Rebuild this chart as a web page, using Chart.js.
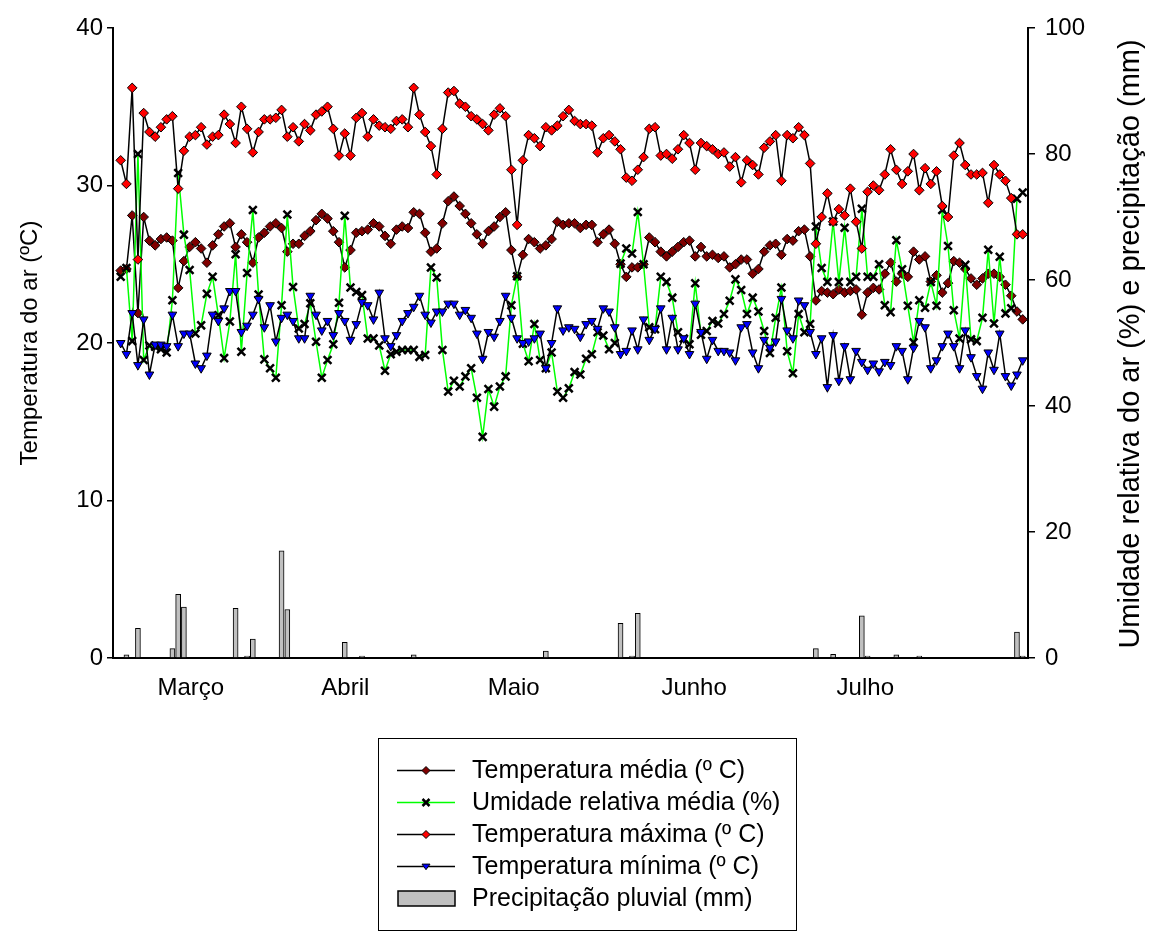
<!DOCTYPE html>
<html>
<head>
<meta charset="utf-8">
<script src="https://cdn.jsdelivr.net/npm/chart.js@4.4.1/dist/chart.umd.min.js"></script>
<style>
  html, body { margin: 0; padding: 0; background: #fff; }
  #wrap { width: 1150px; height: 932px; }
</style>
</head>
<body>
<div id="wrap"><canvas id="chart" width="1150" height="932"></canvas></div>
<script>
// daily series, day 0 = first day shown (early March) .. day 157 (end of July)
const tempMedia = [
  24.6, 24.7, 28.1, 21.9, 28.0, 26.5, 26.2, 26.6, 26.7, 26.5, 23.5, 25.2, 26.1, 26.4, 26.0, 25.1,
  26.2, 26.9, 27.4, 27.6, 26.1, 26.9, 26.4, 25.1, 26.7, 27.0, 27.4, 27.6, 27.3, 25.8, 26.3,
  26.3, 26.8, 27.1, 27.8, 28.2, 27.9, 27.1, 26.4, 24.8, 25.9, 27.0, 27.1, 27.2, 27.6, 27.4, 26.8,
  26.3, 27.2, 27.4, 27.3, 28.3, 28.2, 27.0, 25.8, 26.0, 27.6, 29.0, 29.3, 28.7, 28.2, 27.6, 26.9,
  26.3, 27.1, 27.4, 28.0, 28.3, 25.9, 24.2, 25.6, 26.6, 26.4, 26.0, 26.2, 26.6, 27.7, 27.5, 27.6,
  27.6, 27.3, 27.5, 27.5, 26.4, 26.9, 27.2, 26.3, 25.0, 24.2, 24.8, 24.8, 25.0, 26.7, 26.4, 25.8,
  25.5, 25.8, 26.1, 26.4, 26.5, 25.5, 26.1, 25.5, 25.6, 25.4, 25.5, 24.8, 25.0, 25.3, 25.3, 24.4,
  24.7, 25.8, 26.2, 26.3, 25.6, 26.6, 26.5, 27.1, 27.2, 25.5, 22.7, 23.3, 23.2, 23.1, 23.4,
  23.2, 23.3, 23.4, 21.8, 23.2, 23.5, 23.4, 24.4, 25.1, 23.9, 24.4, 24.2, 25.8, 25.3, 25.5, 23.9,
  24.3, 23.2, 23.8, 25.2, 25.1, 24.7, 24.1, 23.7, 24.1, 24.4, 24.4, 24.2, 23.7, 23.0, 22.0, 21.5
];
const umidade = [
  60.5, 61.9, 50.3, 80.0, 47.3, 49.6, 49.4, 49.0, 48.5, 56.8, 77.0, 67.2, 61.6, 51.5, 52.8, 57.8,
  60.5, 54.4, 47.6, 53.4, 64.1, 48.6, 61.1, 71.1, 57.7, 47.4, 46.0, 44.5, 56.0, 70.4, 58.9,
  52.3, 53.0, 56.3, 50.2, 44.5, 47.3, 49.8, 56.4, 70.2, 58.8, 58.1, 57.6, 50.7, 50.7, 49.6, 45.6,
  48.2, 48.6, 48.9, 48.9, 48.9, 47.8, 48.1, 62.0, 60.4, 48.9, 42.3, 44.0, 43.1, 44.7, 46.0, 41.3,
  35.1, 42.7, 39.9, 43.1, 44.7, 56.0, 60.6, 49.9, 47.1, 53.0, 47.3, 46.0, 48.5, 42.3, 41.3, 42.8,
  45.4, 45.0, 47.5, 48.2, 51.7, 51.2, 49.0, 50.0, 62.6, 65.0, 64.2, 70.8, 62.5, 52.5, 52.2, 60.5,
  59.7, 57.2, 51.7, 50.7, 49.8, 59.5, 51.3, 51.9, 53.5, 53.1, 54.6, 56.7, 60.1, 58.4, 54.6, 57.2,
  55.0, 51.9, 48.4, 54.0, 58.8, 48.7, 45.2, 54.6, 51.7, 53.0, 68.5, 61.9, 59.7, 69.3, 59.7,
  68.3, 59.7, 60.5, 71.3, 60.5, 60.5, 62.5, 56.0, 54.9, 66.3, 61.7, 55.9, 50.1, 56.8, 55.6, 59.7,
  55.9, 71.1, 65.4, 55.2, 50.7, 62.4, 50.6, 50.3, 54.0, 64.8, 53.1, 63.7, 54.7, 55.5, 72.9, 73.9
];
const tempMax = [
  31.6, 30.1, 36.2, 25.3, 34.6, 33.4, 33.1, 33.7, 34.2, 34.4, 29.8, 32.2, 33.1, 33.2, 33.7, 32.6,
  33.1, 33.2, 34.5, 33.9, 32.7, 35.0, 33.6, 32.1, 33.4, 34.2, 34.2, 34.3, 34.8, 33.1, 33.7,
  32.8, 33.9, 33.5, 34.5, 34.7, 35.0, 33.6, 31.9, 33.3, 31.9, 34.3, 34.6, 33.1, 34.2, 33.8, 33.7,
  33.6, 34.1, 34.2, 33.7, 36.2, 34.5, 33.4, 32.5, 30.7, 33.6, 35.9, 36.0, 35.2, 35.0, 34.4, 34.2,
  33.9, 33.5, 34.5, 34.9, 34.4, 31.0, 27.5, 31.6, 33.2, 33.0, 32.5, 33.7, 33.5, 33.8, 34.4, 34.8,
  34.1, 33.9, 33.9, 33.8, 32.1, 33.0, 33.2, 32.8, 32.3, 30.5, 30.3, 31.0, 31.8, 33.6, 33.7, 31.9,
  32.0, 31.7, 32.3, 33.2, 32.7, 31.0, 32.7, 32.5, 32.3, 32.0, 32.1, 31.2, 31.8, 30.2, 31.6, 31.3,
  30.7, 32.4, 32.8, 33.2, 30.3, 33.2, 33.0, 33.7, 33.2, 31.4, 26.3, 28.0, 29.5, 27.7, 28.5,
  28.1, 29.8, 27.7, 26.0, 29.6, 30.0, 29.7, 30.7, 32.3, 31.0, 30.1, 30.9, 32.0, 29.7, 31.1, 30.1,
  30.9, 28.7, 28.0, 31.9, 32.7, 31.3, 30.7, 30.7, 30.8, 28.9, 31.3, 30.7, 30.3, 29.2, 26.9, 26.9
];
const tempMin = [
  20.0, 19.3, 21.9, 18.6, 21.5, 18.0, 19.9, 19.9, 19.8, 21.8, 19.8, 20.6, 20.6, 18.7, 18.4, 19.2,
  21.8, 21.4, 22.2, 23.3, 23.3, 20.7, 21.1, 21.8, 22.8, 21.0, 22.4, 20.1, 21.6, 21.8, 21.4,
  20.3, 20.3, 23.0, 21.8, 20.8, 21.4, 20.5, 21.9, 21.4, 20.2, 21.2, 22.6, 22.4, 21.5, 23.2, 20.3,
  19.8, 20.5, 21.4, 21.9, 22.3, 23.0, 21.8, 21.3, 22.0, 22.0, 22.5, 22.5, 21.8, 22.1, 21.6, 20.6,
  19.0, 20.7, 20.4, 21.4, 23.0, 21.6, 20.3, 20.0, 20.1, 20.3, 20.6, 18.4, 20.0, 22.2, 20.8, 21.0,
  20.9, 20.4, 21.2, 21.4, 20.9, 22.2, 22.0, 21.0, 19.3, 19.5, 20.8, 19.6, 21.5, 20.2, 20.9, 22.2,
  19.6, 21.6, 19.6, 20.3, 19.3, 22.5, 20.7, 19.0, 20.2, 19.5, 19.5, 19.4, 18.9, 21.0, 21.2, 19.4,
  18.4, 20.2, 19.7, 20.1, 22.8, 20.8, 20.3, 22.7, 22.4, 20.7, 19.3, 20.3, 17.2, 20.5, 17.6,
  19.8, 17.7, 19.5, 18.8, 18.3, 18.7, 18.2, 18.8, 18.6, 19.8, 19.5, 17.7, 19.7, 21.4, 21.0, 18.4,
  18.9, 19.8, 20.6, 19.8, 18.4, 20.8, 19.1, 17.9, 17.1, 19.4, 18.3, 20.6, 17.9, 17.3, 18.0, 18.9
];
// rainy days only (day index, mm)
const precipDays = [1, 3, 9, 10, 11, 20, 22, 23, 28, 29, 39, 42, 51, 74, 87, 89, 90, 121, 124, 129, 130, 135, 139, 156, 157];
const precipMm   = [0.5, 4.7, 1.5, 10.1, 8.1, 7.9, 0.3, 3.0, 17.0, 7.7, 2.5, 0.3, 0.5, 1.1, 5.5, 0.3, 7.1, 1.5, 0.6, 6.7, 0.3, 0.5, 0.3, 4.1, 0.3];

const monthLabels = ['Março', 'Abril', 'Maio', 'Junho', 'Julho'];
const monthTickDays = [12.2, 39.1, 68.4, 99.8, 129.6];

const legendItems = [
  'Temperatura média (º C)',
  'Umidade relativa média (%)',
  'Temperatura máxima (º C)',
  'Temperatura mínima (º C)',
  'Precipitação pluvial (mm)'
];

const FONT = "'Liberation Sans', Arial, Helvetica, sans-serif";
Chart.defaults.font.family = FONT;
Chart.defaults.font.size = 24;
Chart.defaults.color = '#000';

const toXY = arr => arr.map((v, i) => ({ x: i, y: v }));

// marker helpers for the hand drawn legend
function diamond(ctx, x, y, r, fill) {
  ctx.beginPath();
  ctx.moveTo(x, y - r); ctx.lineTo(x + r, y); ctx.lineTo(x, y + r); ctx.lineTo(x - r, y);
  ctx.closePath();
  ctx.fillStyle = fill; ctx.fill();
  ctx.lineWidth = 1; ctx.strokeStyle = '#000'; ctx.stroke();
}
function downTri(ctx, x, y, r, fill) {
  ctx.beginPath();
  ctx.moveTo(x - r, y - r * 0.6); ctx.lineTo(x + r, y - r * 0.6); ctx.lineTo(x, y + r * 0.8);
  ctx.closePath();
  ctx.fillStyle = fill; ctx.fill();
  ctx.lineWidth = 1; ctx.strokeStyle = '#000'; ctx.stroke();
}
function cross(ctx, x, y, r) {
  ctx.beginPath();
  ctx.moveTo(x - r, y - r); ctx.lineTo(x + r, y + r);
  ctx.moveTo(x + r, y - r); ctx.lineTo(x - r, y + r);
  ctx.lineWidth = 2.5; ctx.strokeStyle = '#000'; ctx.stroke();
}

const decorPlugin = {
  id: 'decor',
  afterDraw(chart) {
    const ctx = chart.ctx;
    ctx.save();
    ctx.fillStyle = '#000';
    ctx.textAlign = 'center';
    ctx.textBaseline = 'middle';
    // axis titles, both reading bottom to top
    ctx.save();
    ctx.font = '24px ' + FONT;
    ctx.translate(30, 343);
    ctx.rotate(-Math.PI / 2);
    ctx.fillText('Temperatura do ar (ºC)', 0, 0);
    ctx.restore();
    ctx.save();
    ctx.font = '29px ' + FONT;
    ctx.translate(1131, 344);
    ctx.rotate(-Math.PI / 2);
    ctx.fillText('Umidade relativa do ar (%) e precipitação (mm)', 0, 0);
    ctx.restore();

    // legend box
    ctx.lineWidth = 1;
    ctx.strokeStyle = '#000';
    ctx.strokeRect(378.5, 738.5, 418, 192);
    const rows = [770.5, 802.5, 834.5, 866.5, 898.5];
    const x0 = 397, x1 = 455, xm = 426;
    ctx.textAlign = 'left';
    ctx.font = '25px ' + FONT;
    rows.forEach((ry, i) => {
      if (i < 4) {
        ctx.beginPath();
        ctx.moveTo(x0, ry); ctx.lineTo(x1, ry);
        ctx.lineWidth = 1.5;
        ctx.strokeStyle = i === 1 ? '#00ff00' : '#000';
        ctx.stroke();
      }
      if (i === 0) diamond(ctx, xm, ry, 4, '#800000');
      if (i === 1) cross(ctx, xm, ry, 3.5);
      if (i === 2) diamond(ctx, xm, ry, 4, '#ff0000');
      if (i === 3) downTri(ctx, xm, ry, 4, '#0000ff');
      if (i === 4) {
        ctx.fillStyle = '#c0c0c0';
        ctx.fillRect(398, ry - 7.5, 57, 15);
        ctx.lineWidth = 1.5;
        ctx.strokeStyle = '#000';
        ctx.strokeRect(398, ry - 7.5, 57, 15);
      }
      ctx.fillStyle = '#000';
      ctx.fillText(legendItems[i], 472, ry + 1);
    });
    ctx.restore();
  }
};

new Chart(document.getElementById('chart'), {
  type: 'line',
  data: {
    datasets: [
      {
        label: legendItems[0], data: toXY(tempMedia), yAxisID: 'y', order: 4,
        borderColor: '#000', borderWidth: 1.5,
        pointStyle: 'rectRot', pointRadius: 4.8, pointBackgroundColor: '#800000',
        pointBorderColor: '#000', pointBorderWidth: 1
      },
      {
        label: legendItems[1], data: toXY(umidade), yAxisID: 'y1', order: 3,
        borderColor: '#00ff00', borderWidth: 1.5,
        pointStyle: 'crossRot', pointRadius: 5.5, pointBorderColor: '#000', pointBorderWidth: 2.5
      },
      {
        label: legendItems[2], data: toXY(tempMax), yAxisID: 'y', order: 2,
        borderColor: '#000', borderWidth: 1.5,
        pointStyle: 'rectRot', pointRadius: 4.8, pointBackgroundColor: '#ff0000',
        pointBorderColor: '#000', pointBorderWidth: 1
      },
      {
        label: legendItems[3], data: toXY(tempMin), yAxisID: 'y', order: 1,
        borderColor: '#000', borderWidth: 1.5,
        pointStyle: 'triangle', pointRotation: 180, pointRadius: 5, pointBackgroundColor: '#0000ff',
        pointBorderColor: '#000', pointBorderWidth: 1
      },
      {
        type: 'bar', label: legendItems[4], yAxisID: 'y1', order: 5,
        data: precipDays.map((d, i) => ({ x: d, y: precipMm[i] })),
        backgroundColor: '#c0c0c0', borderColor: '#000', borderWidth: 1, barThickness: 5
      }
    ]
  },
  options: {
    responsive: false,
    animation: false,
    devicePixelRatio: 1,
    layout: { padding: { top: 28, left: 0, right: 0, bottom: 0 } },
    plugins: { legend: { display: false }, tooltip: { enabled: false } },
    elements: { line: { tension: 0 } },
    scales: {
      x: {
        type: 'linear', min: -1.34, max: 157.92, offset: false,
        grid: { display: false },
        border: { display: true, color: '#000', width: 2 },
        ticks: {
          autoSkip: false, maxRotation: 0, padding: 8,
          callback: (v, i) => monthLabels[i]
        },
        afterBuildTicks: s => { s.ticks = monthTickDays.map(v => ({ value: v })); },
        afterFit: s => { s.height = 274; }
      },
      y: {
        position: 'left', min: 0, max: 40,
        ticks: { stepSize: 10, padding: 4 },
        grid: { drawOnChartArea: false, tickLength: 6, color: '#000', lineWidth: 1.5 },
        border: { display: true, color: '#000', width: 2 },
        afterFit: s => { s.width = 113; }
      },
      y1: {
        position: 'right', min: 0, max: 100,
        ticks: { stepSize: 20, padding: 10 },
        grid: { drawOnChartArea: false, tickLength: 7, color: '#000', lineWidth: 1.5 },
        border: { display: true, color: '#000', width: 2 },
        afterFit: s => { s.width = 122; }
      }
    }
  },
  plugins: [decorPlugin]
});
</script>
</body>
</html>
